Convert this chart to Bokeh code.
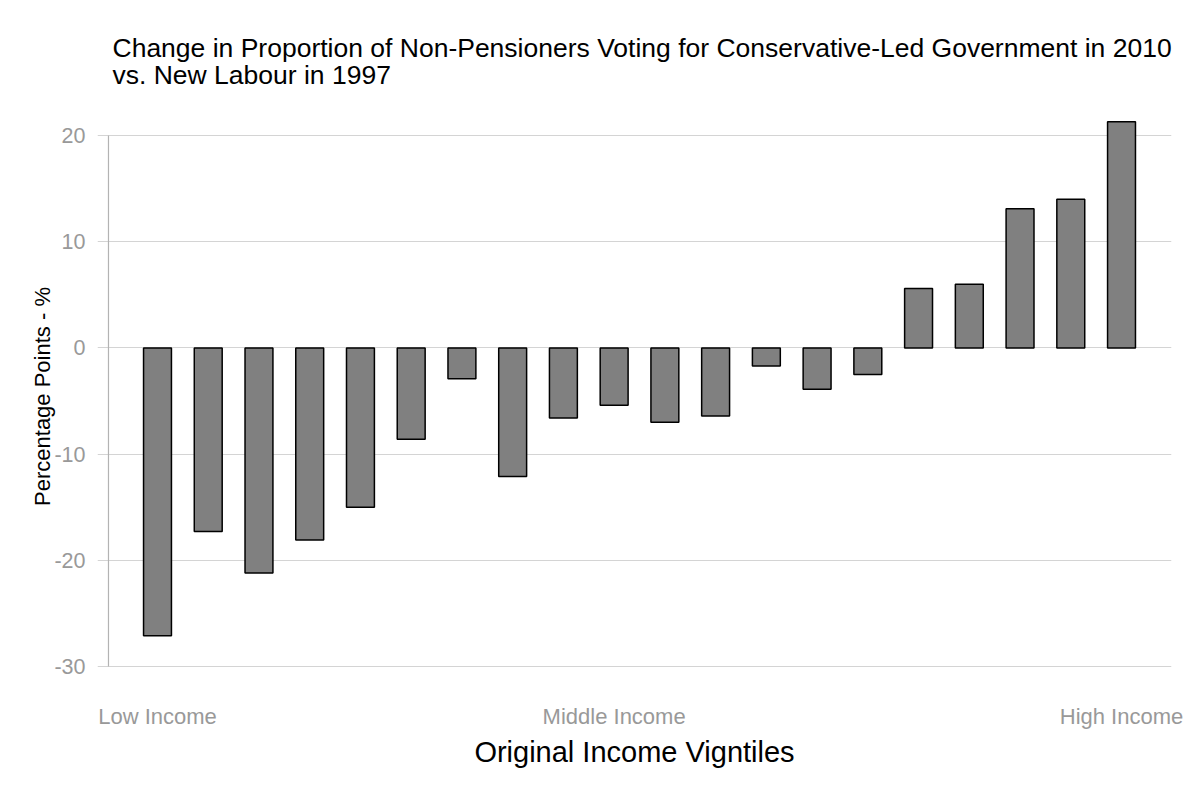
from bokeh.plotting import figure
from bokeh.models import FixedTicker, ColumnDataSource
from bokeh.embed import file_html
from bokeh.resources import INLINE

vigntile = list(range(1, 21))
change = [-27.1, -17.3, -21.2, -18.1, -15.0, -8.6, -2.9, -12.1, -6.6, -5.4,
          -7.0, -6.4, -1.7, -3.9, -2.5, 5.6, 6.0, 13.1, 14.0, 21.3]
x_tick_pos = [1, 10, 20]
x_tick_labels = ["Low Income", "Middle Income", "High Income"]
y_ticks = [-30, -20, -10, 0, 10, 20]
y_tick_labels = ["-30", "-20", "-10", "0", "10", "20"]

title_text = ("Change in Proportion of Non-Pensioners Voting for Conservative-Led Government in 2010\n"
              "vs. New Labour in 1997")

FONT = "Liberation Sans"

p = figure(width=1184, height=784, output_backend="svg", toolbar_location=None,
           x_range=(-0.1825, 20.985), y_range=(-31.32, 22.17),
           min_border_left=97, min_border_right=13, min_border_top=112, min_border_bottom=104,
           title=title_text)
p.outline_line_color = None
p.background_fill_color = "white"
p.border_fill_color = "white"

p.title.text_font = FONT
p.title.text_font_size = "26.5px"
p.title.text_font_style = "normal"
p.title.text_color = "black"
p.title.align = "left"
p.title.offset = 15
p.title.text_line_height = 0.9
p.title.standoff = 45

src = ColumnDataSource(dict(x=vigntile, top=change))
p.vbar(x="x", top="top", bottom=0, width=0.55, source=src,
       fill_color="#808080", line_color="black", line_width=1.5)

# y axis line limited to the break range
p.segment(x0=[0.034], y0=[min(y_ticks)], x1=[0.034], y1=[max(y_ticks)],
          line_color="#b3b3b3", line_width=1.2)

p.xgrid.visible = False
p.ygrid.ticker = FixedTicker(ticks=y_ticks)
p.ygrid.grid_line_color = "#d4d4d4"
p.ygrid.grid_line_width = 1.2

p.yaxis.ticker = FixedTicker(ticks=y_ticks)
p.yaxis.major_label_overrides = {k: v for k, v in zip(y_ticks, y_tick_labels)}
p.yaxis.axis_line_color = None
p.yaxis.major_tick_line_color = None
p.yaxis.minor_tick_line_color = None
p.yaxis.major_label_standoff = 6
p.yaxis.major_label_text_font = FONT
p.yaxis.major_label_text_font_size = "21.5px"
p.yaxis.major_label_text_color = "#999999"
p.yaxis.axis_label = "Percentage Points - %"
p.yaxis.axis_label_text_font = FONT
p.yaxis.axis_label_text_font_size = "22px"
p.yaxis.axis_label_text_font_style = "normal"
p.yaxis.axis_label_text_color = "black"
p.yaxis.axis_label_standoff = -4

p.xaxis.ticker = FixedTicker(ticks=x_tick_pos)
p.xaxis.major_label_overrides = {k: v for k, v in zip(x_tick_pos, x_tick_labels)}
p.xaxis.axis_line_color = None
p.xaxis.major_tick_line_color = None
p.xaxis.minor_tick_line_color = None
p.xaxis.major_label_standoff = 17
p.xaxis.major_label_text_font = FONT
p.xaxis.major_label_text_font_size = "22px"
p.xaxis.major_label_text_color = "#999999"
p.xaxis.axis_label = "Original Income Vigntiles"
p.xaxis.axis_label_text_font = FONT
p.xaxis.axis_label_text_font_size = "29px"
p.xaxis.axis_label_text_font_style = "normal"
p.xaxis.axis_label_text_color = "black"
p.xaxis.axis_label_standoff = 4

open("out.html", "w").write(file_html(p, INLINE))
